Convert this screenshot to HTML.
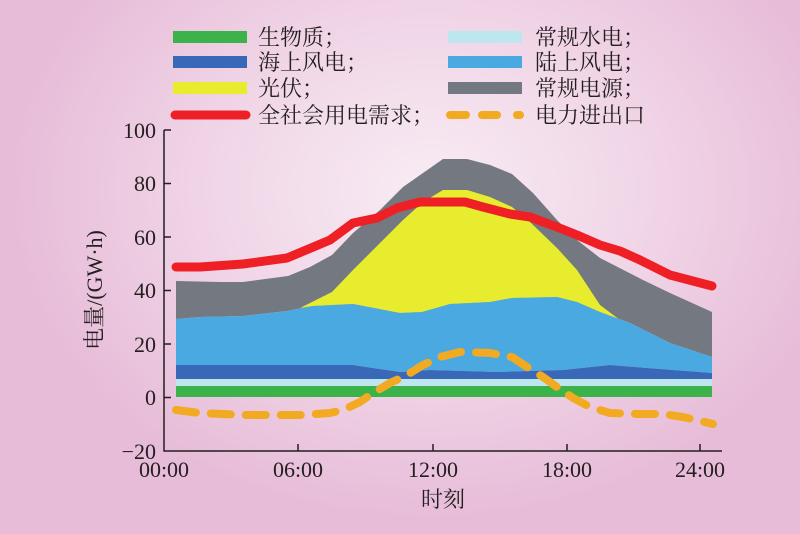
<!DOCTYPE html>
<html><head><meta charset="utf-8"><style>
html,body{margin:0;padding:0}
body{width:800px;height:534px;overflow:hidden;background:radial-gradient(ellipse 420px 330px at 430px 190px,#f8ecf4 0%,#f0d4e6 55%,#e7bcd8 100%);}
svg{display:block}
text{font-family:"Liberation Serif","Noto Serif CJK SC","Noto Sans CJK SC",serif;fill:#231f20}
</style></head><body>
<svg width="800" height="534" viewBox="0 0 800 534">
<!-- legend -->
<g>
<rect x="173" y="31" width="74" height="12" fill="#3bb34a"/>
<rect x="173" y="56" width="74" height="12" fill="#3a68b8"/>
<rect x="173" y="82" width="74" height="12" fill="#e8ec2e"/>
<line x1="175" y1="115" x2="246" y2="115" stroke="#ee2025" stroke-width="9" stroke-linecap="round"/>
<rect x="448" y="31" width="74" height="12" fill="#bde6ef"/>
<rect x="448" y="56" width="74" height="12" fill="#4aa9e0"/>
<rect x="448" y="82" width="74" height="12" fill="#747880"/>
<path d="M450 115H466M482 115H497M517 115H520" stroke="#f2aa22" stroke-width="8" stroke-linecap="round"/>
<g font-size="22">
<text x="258" y="45">生物质；</text>
<text x="258" y="70">海上风电；</text>
<text x="258" y="96">光伏；</text>
<text x="258" y="123">全社会用电需求；</text>
<text x="535" y="45">常规水电；</text>
<text x="535" y="70">陆上风电；</text>
<text x="535" y="96">常规电源；</text>
<text x="535" y="123">电力进出口</text>
</g>
</g>
<!-- areas -->
<polygon fill="#747880" points="176,281 220,282 243,282 288,276 310,267 332,255 353,233 380,210 403,187 423,173 443,159 467,159 490,165 512,174 533,193 557,220 577,240 600,258 643,280 670,293 712,312 712,357 670,343 630,323 600,312 577,302 557,297 512,298 490,302 450,304 422,312 400,313 353,304 313,306 287,311 243,316 200,317 176,319"/>
<polygon fill="#e8ec2e" points="300,308 332,292 353,270 380,243 403,220 423,202 443,190 467,190 490,197 512,207 530,222 557,248 577,270 600,305 620,320 630,323 600,312 577,302 557,297 512,298 490,302 450,304 422,312 400,313 353,304 313,306"/>
<polygon fill="#4aa9e0" points="176,319 200,317 243,316 287,311 313,306 353,304 400,313 422,312 450,304 490,302 512,298 557,297 577,302 600,312 630,323 670,343 712,357 712,373 647,368 610,365 563,370 497,372 430,370 400,372 373,368 353,365 176,365"/>
<polygon fill="#3a68b8" points="176,365 353,365 373,368 400,372 430,370 497,372 563,370 610,365 647,368 712,373 712,379 176,379"/>
<rect x="176" y="379" width="536" height="7" fill="#bde6ef"/>
<rect x="176" y="386" width="536" height="11" fill="#3bb34a"/>
<!-- lines -->
<polyline fill="none" stroke="#f2aa22" stroke-width="8" stroke-linecap="round" stroke-linejoin="round" stroke-dasharray="20 15" points="176,410 200,413 243,415 300,415 330,413 343,410 360,402 373,393 390,383 407,375 423,365 440,357 460,352 490,353 512,357 527,367 543,377 557,387 573,398 590,407 610,413 637,414 663,414 683,417 713,424"/>
<polyline fill="none" stroke="#ee2025" stroke-width="9" stroke-linecap="round" stroke-linejoin="round" points="176,267 200,267 243,264 287,258 330,240 353,223 377,218 397,208 420,202 450,202 465,202 483,207 510,214 530,217 557,227 577,235 600,245 620,251 640,260 670,275 712,286"/>
<!-- axes -->
<g stroke="#231f20" stroke-width="1.5" fill="none">
<path d="M164 130V451H722"/>
<path d="M164 130H171M164 183.5H171M164 237H171M164 290.5H171M164 344H171M164 397.5H171"/>
<path d="M298 451V444M433 451V444M567 451V444M700 451V444"/>
</g>
<g font-size="22" text-anchor="end">
<text x="156" y="138">100</text>
<text x="156" y="191">80</text>
<text x="156" y="245">60</text>
<text x="156" y="298">40</text>
<text x="156" y="352">20</text>
<text x="156" y="405">0</text>
<text x="156" y="459">−20</text>
</g>
<g font-size="22" text-anchor="middle">
<text x="164" y="477">00:00</text>
<text x="298" y="477">06:00</text>
<text x="433" y="477">12:00</text>
<text x="567" y="477">18:00</text>
<text x="700" y="477">24:00</text>
<text x="443" y="507">时刻</text>
<text transform="translate(102,290) rotate(-90)">电量/(GW·h)</text>
</g>
</svg>
</body></html>
